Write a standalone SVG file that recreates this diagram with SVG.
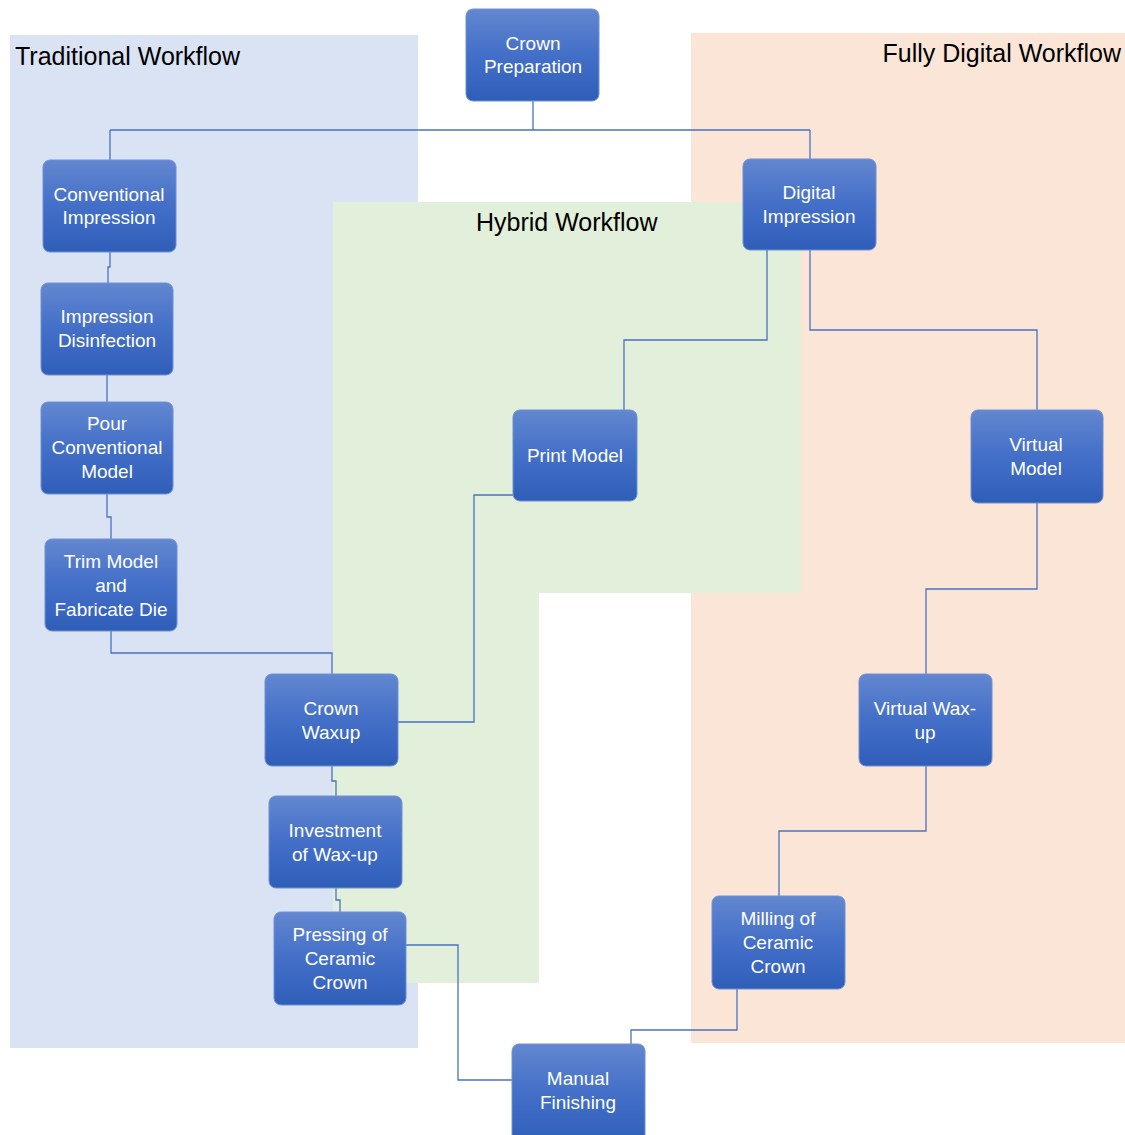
<svg xmlns="http://www.w3.org/2000/svg" width="1125" height="1135" viewBox="0 0 1125 1135">
<defs>
<linearGradient id="nodeGrad" x1="0" y1="0" x2="0" y2="1">
<stop offset="0" stop-color="#6387D0"/>
<stop offset="0.5" stop-color="#436FC8"/>
<stop offset="1" stop-color="#2F5EB9"/>
</linearGradient>
<style>
.node rect{fill:url(#nodeGrad);stroke:#6F90D2;stroke-width:1}
.node text{fill:#FFFFFF;font-family:"Liberation Sans",Arial,sans-serif;font-size:19px;text-anchor:middle}
.title{fill:#000000;font-family:"Liberation Sans",Arial,sans-serif;font-size:25px}
#connectors path{fill:none;stroke:#4A72C0;stroke-width:1.3}
</style>
</defs>
<rect width="1125" height="1135" fill="#FFFFFF"/>
<g id="regions">
<rect id="traditional-bg" x="10" y="35" width="408" height="1013" fill="#DAE3F3"/>
<rect id="digital-bg" x="691" y="33" width="434" height="1010" fill="#FBE5D6"/>
<path id="hybrid-bg" d="M333,202 H801 V593 H539 V983 H333 Z" fill="#E2EFDA"/>
<text class="title" x="15" y="65">Traditional Workflow</text>
<text class="title" x="1121" y="62" text-anchor="end">Fully Digital Workflow</text>
<text class="title" x="476" y="231">Hybrid Workflow</text>
</g>
<g id="connectors">
<path d="M533,101 V130 M110,130 H810 M110,130 V160 M810,130 V159"/>
<path d="M110,252 V267 H108 V283"/>
<path d="M107,375 V402"/>
<path d="M107,494 V517 H111 V539"/>
<path d="M111,631 V653 H332 V674"/>
<path d="M332,766 V781 H336 V796"/>
<path d="M336,888 V900 H340 V912"/>
<path d="M406,945 H458 V1080 H512"/>
<path d="M513,495 H474 V722 H398"/>
<path d="M767,250 V340 H624 V410"/>
<path d="M810,250 V330 H1037 V410"/>
<path d="M1037,503 V589 H926 V674"/>
<path d="M926,766 V831 H779 V896"/>
<path d="M737,989 V1030 H631 V1044"/>
</g>
<g id="crown-preparation" class="node"><rect x="466" y="9" width="133" height="92" rx="7"/><text x="533" y="50">Crown</text><text x="533" y="73">Preparation</text></g>
<g id="conventional-impression" class="node"><rect x="43" y="160" width="133" height="92" rx="7"/><text x="109" y="201">Conventional</text><text x="109" y="224">Impression</text></g>
<g id="impression-disinfection" class="node"><rect x="41" y="283" width="132" height="92" rx="7"/><text x="107" y="323">Impression</text><text x="107" y="347">Disinfection</text></g>
<g id="pour-conventional-model" class="node"><rect x="41" y="402" width="132" height="92" rx="7"/><text x="107" y="430">Pour</text><text x="107" y="454">Conventional</text><text x="107" y="478">Model</text></g>
<g id="trim-model" class="node"><rect x="45" y="539" width="132" height="92" rx="7"/><text x="111" y="568">Trim Model</text><text x="111" y="592">and</text><text x="111" y="616">Fabricate Die</text></g>
<g id="crown-waxup" class="node"><rect x="265" y="674" width="133" height="92" rx="7"/><text x="331" y="715">Crown</text><text x="331" y="739">Waxup</text></g>
<g id="investment" class="node"><rect x="269" y="796" width="133" height="92" rx="7"/><text x="335" y="837">Investment</text><text x="335" y="861">of Wax-up</text></g>
<g id="pressing" class="node"><rect x="274" y="912" width="132" height="93" rx="7"/><text x="340" y="941">Pressing of</text><text x="340" y="965">Ceramic</text><text x="340" y="989">Crown</text></g>
<g id="manual-finishing" class="node"><rect x="512" y="1044" width="133" height="100" rx="7"/><text x="578" y="1085">Manual</text><text x="578" y="1109">Finishing</text></g>
<g id="digital-impression" class="node"><rect x="743" y="159" width="133" height="91" rx="7"/><text x="809" y="199">Digital</text><text x="809" y="223">Impression</text></g>
<g id="print-model" class="node"><rect x="513" y="410" width="124" height="91" rx="7"/><text x="575" y="462">Print Model</text></g>
<g id="virtual-model" class="node"><rect x="971" y="410" width="132" height="93" rx="7"/><text x="1036" y="451">Virtual</text><text x="1036" y="475">Model</text></g>
<g id="virtual-waxup" class="node"><rect x="859" y="674" width="133" height="92" rx="7"/><text x="925" y="715">Virtual Wax-</text><text x="925" y="739">up</text></g>
<g id="milling" class="node"><rect x="712" y="896" width="133" height="93" rx="7"/><text x="778" y="925">Milling of</text><text x="778" y="949">Ceramic</text><text x="778" y="973">Crown</text></g>
</svg>
